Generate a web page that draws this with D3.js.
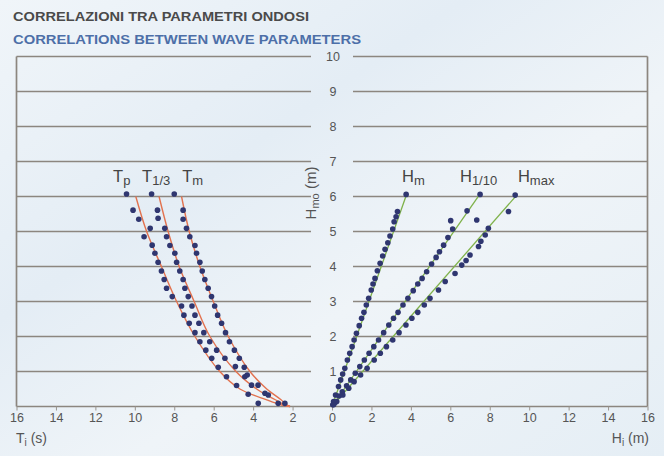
<!DOCTYPE html>
<html><head><meta charset="utf-8">
<script src="https://cdn.jsdelivr.net/npm/d3@7/dist/d3.min.js"></script>
<style>
html,body{margin:0;padding:0;background:#e9f0f6;}
svg{display:block;font-family:'Liberation Sans',Arial,Helvetica,sans-serif;}
</style></head>
<body>
<svg id="c" width="664" height="456"></svg>
<script>
// ---- DATA ----
const titleIt = "CORRELAZIONI TRA PARAMETRI ONDOSI";
const titleEn = "CORRELATIONS BETWEEN WAVE PARAMETERS";
const xTicks = [-16,-14,-12,-10,-8,-6,-4,-2,0,2,4,6,8,10,12,14,16];
const yTicks = [1,2,3,4,5,6,7,8,9,10];
// periods (left side): [Hmo (m), T (s)]
const tp = [[6.07,10.42],[5.61,10.09],[5.35,9.80],[5.09,9.22],[4.85,9.53],[4.61,9.12],[4.38,8.98],[4.12,8.82],[3.87,8.65],[3.63,8.51],[3.38,8.39],[3.14,8.10],[2.87,7.63],[2.61,7.51],[2.38,7.24],[2.11,6.95],[1.85,6.70],[1.61,6.40],[1.38,6.10],[1.12,5.77],[0.85,5.35],[0.60,4.84],[0.35,4.25],[0.09,3.74]];
const t13 = [[6.07,9.15],[5.61,8.85],[5.38,8.82],[5.09,8.48],[4.85,8.39],[4.60,8.22],[4.38,7.97],[4.12,7.88],[3.87,7.72],[3.63,7.55],[3.38,7.46],[3.14,7.29],[2.87,7.10],[2.61,6.95],[2.38,6.75],[2.11,6.50],[1.85,6.20],[1.61,5.85],[1.38,5.43],[1.14,4.90],[0.85,4.42],[0.61,4.08],[0.38,3.40],[0.09,2.73]];
const tm = [[6.07,8.00],[5.61,7.55],[5.35,7.55],[5.09,7.38],[4.85,7.21],[4.60,6.95],[4.38,6.87],[4.12,6.70],[3.87,6.58],[3.63,6.45],[3.38,6.28],[3.14,6.11],[2.87,5.95],[2.61,5.80],[2.38,5.60],[2.11,5.40],[1.85,5.20],[1.61,4.95],[1.38,4.70],[1.12,4.45],[0.90,4.30],[0.61,3.75],[0.33,3.23],[0.09,2.39]];
// fitted period curves: [Hmo, T]
const tpCurve = [[6,9.95],[5,9.40],[4,8.65],[3,7.88],[2,6.95],[1,5.69],[0.5,4.67],[0.19,3.31],[0.05,2.60],[0,2.13]];
const t13Curve = [[6,8.77],[5,8.31],[4,7.75],[3,6.99],[2,6.19],[1,4.87],[0.5,3.82],[0.2,2.90],[0.05,2.40],[0,2.13]];
const tmCurve = [[6,7.63],[5,7.24],[4,6.70],[3,6.02],[2,5.26],[1,4.16],[0.5,3.31],[0.2,2.60],[0.05,2.30],[0,2.13]];
// heights (right side): [Hmo (m), H (m)]
const hm = [[6.06,3.76],[5.57,3.32],[5.42,3.25],[5.28,3.15],[5.07,3.08],[4.87,2.94],[4.68,2.83],[4.49,2.69],[4.30,2.57],[4.09,2.44],[3.88,2.30],[3.66,2.18],[3.50,2.08],[3.33,1.99],[3.09,1.86],[2.90,1.74],[2.69,1.62],[2.52,1.50],[2.31,1.38],[2.09,1.24],[1.90,1.12],[1.71,1.02],[1.52,0.90],[1.33,0.78],[1.09,0.65],[0.93,0.54],[0.76,0.44],[0.57,0.33],[0.33,0.18],[0.14,0.08],[0.05,0.04]];
const h110 = [[6.06,7.51],[5.59,6.85],[5.31,6.02],[5.07,6.12],[4.83,5.88],[4.61,5.66],[4.42,5.45],[4.26,5.28],[4.07,5.05],[3.85,4.80],[3.66,4.57],[3.50,4.35],[3.31,4.12],[3.09,3.85],[2.90,3.60],[2.69,3.35],[2.52,3.12],[2.33,2.88],[2.11,2.62],[1.90,2.36],[1.71,2.12],[1.52,1.88],[1.33,1.64],[1.14,1.41],[0.95,1.18],[0.76,0.95],[0.59,0.74],[0.42,0.52],[0.30,0.36],[0.09,0.12]];
const hmax = [[6.04,9.29],[5.57,8.95],[5.33,7.34],[5.09,7.93],[4.90,7.77],[4.72,7.55],[4.57,7.43],[4.33,7.00],[4.17,6.80],[4.04,6.58],[3.80,6.24],[3.57,5.74],[3.33,5.40],[3.09,4.97],[2.90,4.68],[2.69,4.35],[2.52,4.05],[2.33,3.75],[2.11,3.40],[1.90,3.08],[1.71,2.76],[1.52,2.45],[1.33,2.14],[1.09,1.78],[0.90,1.45],[0.71,1.12],[0.52,0.85],[0.33,0.55],[0.14,0.24],[0.05,0.08]];
// fitted height lines: [Hmo, H]
const hmLine = [[0,0],[6.07,3.79]];
const h110Line = [[0,0],[6.07,7.50]];
const hmaxLine = [[0,0],[6.04,9.37]];
const seriesLabels = [
  {main:"T", sub:"p", side:-1, at:11.1},
  {main:"T", sub:"1/3", side:-1, at:9.63},
  {main:"T", sub:"m", side:-1, at:7.6},
  {main:"H", sub:"m", side:1, at:3.55},
  {main:"H", sub:"1/10", side:1, at:6.49},
  {main:"H", sub:"max", side:1, at:9.43}
];

// ---- CHART ----
const svg = d3.select("#c");
const W=664,H=456;
const x = d3.scaleLinear().domain([-16,16]).range([16.5,647.5]);
const y = d3.scaleLinear().domain([0,10]).range([406.5,56.5]);
const cx = x(0);

// background
const defs = svg.append("defs");
const g1 = defs.append("linearGradient").attr("id","bg").attr("x1","0").attr("y1","0").attr("x2","1").attr("y2","1");
g1.append("stop").attr("offset","0%").attr("stop-color","#f0f5f9");
g1.append("stop").attr("offset","35%").attr("stop-color","#e4edf5");
g1.append("stop").attr("offset","60%").attr("stop-color","#eff4f8");
g1.append("stop").attr("offset","100%").attr("stop-color","#e5eef5");
svg.append("rect").attr("width",W).attr("height",H).attr("fill","url(#bg)");

// titles
svg.append("text").attr("x",13).attr("y",21).attr("font-size",12.5).attr("font-weight","bold")
  .attr("fill","#4a4a4a").attr("textLength",296).attr("lengthAdjust","spacingAndGlyphs").text(titleIt);
svg.append("text").attr("x",13).attr("y",44).attr("font-size",12.5).attr("font-weight","bold")
  .attr("fill","#4d6fa8").attr("textLength",348).attr("lengthAdjust","spacingAndGlyphs").text(titleEn);

const gridCol = "#8c867f";
const grid = svg.append("g").attr("stroke",gridCol).attr("stroke-width",1.7);
yTicks.forEach(v=>{
  grid.append("line").attr("x1",x(-16)).attr("x2",cx-21).attr("y1",y(v)).attr("y2",y(v));
  grid.append("line").attr("x1",cx+21).attr("x2",x(16)).attr("y1",y(v)).attr("y2",y(v));
});
grid.append("line").attr("x1",x(-16)).attr("x2",x(16)).attr("y1",y(0)).attr("y2",y(0));
grid.append("line").attr("x1",x(-16)).attr("x2",x(-16)).attr("y1",y(0)).attr("y2",y(10));
grid.append("line").attr("x1",x(16)).attr("x2",x(16)).attr("y1",y(0)).attr("y2",y(10));

// x axis
const xa = svg.append("g").attr("transform",`translate(0,${y(0)})`)
  .call(d3.axisBottom(x).tickValues(xTicks).tickFormat(d=>Math.abs(d)).tickSize(4).tickPadding(3));
xa.select(".domain").remove();
xa.selectAll(".tick line").attr("stroke","#9a958f").attr("stroke-width",1);
xa.selectAll(".tick text").attr("font-size",12.5).attr("fill","#555").attr("font-family","'Liberation Sans',Arial,sans-serif");

// y labels in center
svg.append("g").selectAll("text").data(yTicks).join("text")
  .attr("x",cx+1).attr("y",d=>y(d)+4.5).attr("text-anchor","middle")
  .attr("font-size",12.5).attr("fill","#555").text(d=>d);

// axis titles
const tl = svg.append("text").attr("x",16).attr("y",443).attr("font-size",14).attr("fill","#555");
tl.append("tspan").text("T");
tl.append("tspan").attr("font-size",10).attr("dy",3).text("i");
tl.append("tspan").attr("dy",-3).text(" (s)");
const hl = svg.append("text").attr("x",649).attr("y",443).attr("font-size",14).attr("fill","#555").attr("text-anchor","end");
hl.append("tspan").text("H");
hl.append("tspan").attr("font-size",10).attr("dy",3).text("i");
hl.append("tspan").attr("dy",-3).text(" (m)");
const yl = svg.append("text").attr("transform",`translate(${cx-16},${y(6.1)}) rotate(-90)`)
  .attr("text-anchor","middle").attr("font-size",15).attr("fill","#555");
yl.append("tspan").text("H");
yl.append("tspan").attr("font-size",11).attr("dy",3).text("mo");
yl.append("tspan").attr("dy",-3).text(" (m)");

// curves (left)
const curveL = d3.line().x(d=>x(-d[1])).y(d=>y(d[0])).curve(d3.curveCatmullRom);
[tpCurve,t13Curve,tmCurve].forEach(c=>{
  svg.append("path").attr("d",curveL(c)).attr("fill","none").attr("stroke","#e2724f").attr("stroke-width",1.4);
});
const lineR = d3.line().x(d=>x(d[1])).y(d=>y(d[0]));
[hmLine,h110Line,hmaxLine].forEach(c=>{
  svg.append("path").attr("d",lineR(c)).attr("fill","none").attr("stroke","#7fb24a").attr("stroke-width",1.3);
});

// dots
const dotCol = "#2f3670";
[tp,t13,tm].forEach(s=>{
  svg.append("g").selectAll("circle").data(s).join("circle")
    .attr("cx",d=>x(-d[1])).attr("cy",d=>y(d[0])).attr("r",2.8).attr("fill",dotCol);
});
[hm,h110,hmax].forEach(s=>{
  svg.append("g").selectAll("circle").data(s).join("circle")
    .attr("cx",d=>x(d[1])).attr("cy",d=>y(d[0])).attr("r",2.8).attr("fill",dotCol);
});

// series labels
seriesLabels.forEach(l=>{
  const t = svg.append("text").attr("x",x(l.side*l.at)).attr("y",y(6)-15)
    .attr("text-anchor","start").attr("font-size",16.5).attr("fill","#444");
  t.append("tspan").text(l.main);
  t.append("tspan").attr("font-size",13).attr("dy",3).text(l.sub);
});
</script>
</body></html>
